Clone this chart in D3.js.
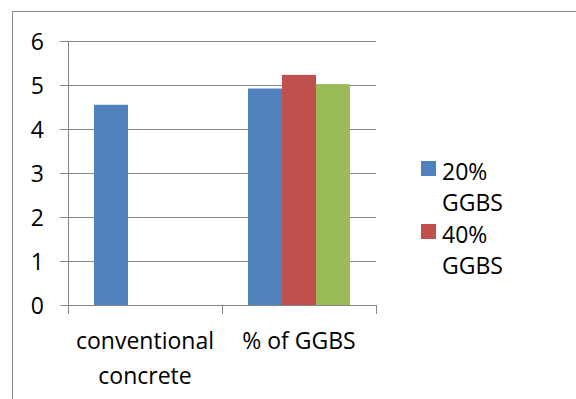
<!DOCTYPE html>
<html>
<head>
<meta charset="utf-8">
<script src="https://cdn.jsdelivr.net/npm/d3@7"></script>
<style>
  html, body { margin: 0; padding: 0; background: #fff; }
  svg { display: block; }
  text { font-family: "Open Sans", "DejaVu Sans", sans-serif; fill: #000; }
</style>
</head>
<body>
<svg id="chart" width="576" height="399"></svg>
<script>
// Categories, series and values
const categories = ["conventional concrete", "% of GGBS"];
const categoryLines = [["conventional", "concrete"], ["% of GGBS"]];
const seriesNames = ["20% GGBS", "40% GGBS", "60% GGBS"];
const legendLines = [["20%", "GGBS"], ["40%", "GGBS"]];
const series20 = [4.55, 4.92];
const series40 = [null, 5.23];
const series60 = [null, 5.02];
const yTicks = [0, 1, 2, 3, 4, 5, 6];
const colors = ["#4F81BD", "#C0504D", "#9BBB59"];

const seriesValues = [series20, series40, series60];

const svg = d3.select("#chart");
const W = 576, H = 399;
const gridColor = "#868686";
const fontSize = 23;

// Outer frame (left and top edges visible)
svg.append("path")
  .attr("d", `M12.5,${H} L12.5,11.5 L${W},11.5`)
  .attr("fill", "none").attr("stroke", gridColor).attr("stroke-width", 1);

// Plot area
const plot = { left: 68, right: 376, top: 41, bottom: 305 };

const x = d3.scaleBand()
  .domain(categories)
  .range([plot.left, plot.right])
  .paddingInner(0)
  .paddingOuter(0);

const y = d3.scaleLinear().domain([0, 6]).range([plot.bottom, plot.top]);

// Bars inside each category: 3 slots, gap on each side
const xSub = d3.scaleBand()
  .domain(d3.range(seriesNames.length))
  .range([0, x.bandwidth()])
  .paddingInner(0)
  .paddingOuter(0.765);

// Horizontal gridlines
svg.append("g")
  .selectAll("line")
  .data(yTicks.filter(t => t > 0))
  .join("line")
  .attr("x1", plot.left - 8).attr("x2", plot.right)
  .attr("y1", d => Math.round(y(d)) + 0.5).attr("y2", d => Math.round(y(d)) + 0.5)
  .attr("stroke", gridColor).attr("stroke-width", 1);

// Bars
const bars = [];
categories.forEach((c, ci) => {
  seriesValues.forEach((vals, si) => {
    if (vals[ci] != null) bars.push({ c, si, v: vals[ci] });
  });
});
svg.append("g")
  .selectAll("rect")
  .data(bars)
  .join("rect")
  .attr("x", d => x(d.c) + xSub(d.si))
  .attr("width", xSub.bandwidth())
  .attr("y", d => y(d.v))
  .attr("height", d => y(0) - y(d.v))
  .attr("fill", d => colors[d.si]);

// Y axis line and ticks
const yAxis = d3.axisLeft(y).tickValues(yTicks).tickSize(8).tickFormat("");
const gy = svg.append("g").attr("transform", `translate(${plot.left + 0.5},0.5)`).call(yAxis);
gy.select(".domain").attr("stroke", gridColor).attr("d", `M0,${plot.top} V${plot.bottom}`);
gy.selectAll(".tick line").attr("stroke", gridColor);
gy.selectAll(".tick").attr("transform", d => `translate(0,${Math.round(y(d))})`);

// X axis line and category boundary ticks
const xEdges = [plot.left, ...categories.map(c => x(c) + x.bandwidth())];
const gx = svg.append("g");
gx.append("line")
  .attr("x1", plot.left).attr("x2", plot.right)
  .attr("y1", plot.bottom + 0.5).attr("y2", plot.bottom + 0.5)
  .attr("stroke", gridColor);
gx.selectAll("line.tk")
  .data(xEdges)
  .join("line").attr("class", "tk")
  .attr("x1", d => d + 0.5).attr("x2", d => d + 0.5)
  .attr("y1", plot.bottom).attr("y2", plot.bottom + 9)
  .attr("stroke", gridColor);

// Text helper
function label(g, tx, ty, str, anchor) {
  g.append("text")
    .attr("x", tx).attr("y", ty)
    .attr("text-anchor", anchor)
    .attr("dominant-baseline", "central")
    .style("font-size", fontSize + "px")
    .text(str);
}

// Y tick labels
const yl = svg.append("g");
yTicks.forEach(t => label(yl, 44, y(t), String(t), "end"));

// Category labels
const xl = svg.append("g");
categories.forEach((c, i) => {
  categoryLines[i].forEach((ln, j) => {
    label(xl, x(c) + x.bandwidth() / 2, 340 + j * 35, ln, "middle");
  });
});

// Legend
const lg = svg.append("g");
legendLines.forEach((lines, i) => {
  const top = 161 + i * 63;
  lg.append("rect")
    .attr("x", 421).attr("y", top)
    .attr("width", 15).attr("height", 15)
    .attr("fill", colors[i]);
  lines.forEach((ln, j) => label(lg, 442, top + 10 + j * 31, ln, "start"));
});
</script>
</body>
</html>
